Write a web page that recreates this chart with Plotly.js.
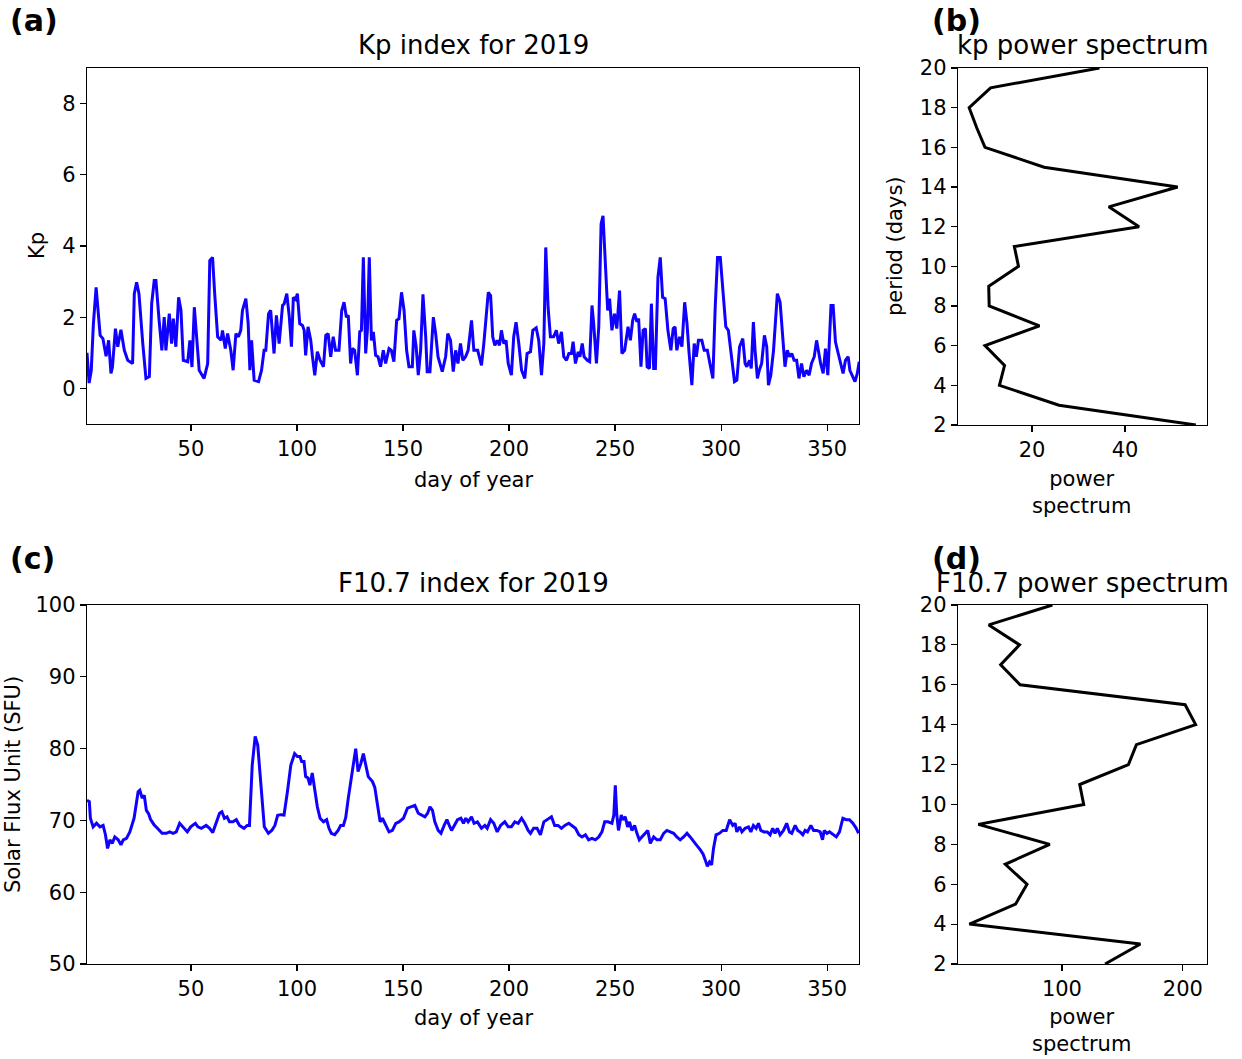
<!DOCTYPE html>
<html>
<head>
<meta charset="utf-8">
<script src="https://cdn.plot.ly/plotly-3.0.1.min.js"></script>
<style>html,body{margin:0;padding:0;background:#fff;}#chart{width:1242px;height:1059px;}</style>
</head>
<body>
<div id="chart"></div>
<script>
// ---- Panel (a): Kp index for 2019 ----
const kpDay = [1,2,3,4,5.3,6.2,7.2,8.5,10,11.2,12.3,13,14.4,15.5,17,18.6,20.2,22.5,23.3,24.4,25.5,27.3,28.8,30.4,31.5,32.7,33.5,35,36.3,37.4,38.2,39.8,40.9,41.7,42.9,44.2,45.3,46.4,48.5,49.5,50.5,51.6,52.6,53.9,56.2,57.9,58.9,60.2,61.2,62.6,64.2,64.9,66.2,67.3,68.8,69.9,71.2,72.4,73.5,74.3,75.9,77,77.8,78.6,79.8,81.9,83.3,84.5,85.3,86.6,87.6,89.2,90.3,91.6,93.2,94,95.2,96.4,97.4,98.3,99.4,100.2,101.3,102.6,103.4,104.1,105.2,106.5,107.3,108.4,109.6,110.9,112.5,113.6,114.7,115.9,117.1,118.2,119.8,121.1,122.2,123.3,124.2,125.3,126.1,127.2,128.5,129.6,130.4,131.3,132.4,133.2,134.1,135.1,136,137.1,138.2,139.4,140.7,141.8,143.4,144.5,145.7,147,148.1,149.3,150.5,151.7,152.8,154.4,155.1,156.2,157.2,158.3,159.4,160.7,161.4,162.7,164.3,165.4,166.5,167.7,168.5,170.1,171.1,172.4,173.7,174.8,175.9,177.1,178.2,179.5,180.7,182.3,183.4,185.2,187,188.1,189.2,190.2,191.3,192.3,193.3,194.4,195.5,196.4,197.5,198.6,199.6,201.1,202.2,203.3,204.6,205.9,207.4,208.5,210.1,211.2,212.8,214,215.3,216.4,217.3,218.4,219.5,221,222.3,223.4,224.7,225.8,227.1,228.2,229.4,230.2,231.3,232.6,233.4,234.5,235.4,236.9,238,239.1,239.9,241.2,242.3,243.4,244.3,245.4,246.5,247.4,248.5,249.7,250.8,252.1,253.2,254.5,256.1,257.2,258.3,259.2,260.3,261.1,262.2,263.2,264.3,265.1,266.2,267.1,268.2,269,270.2,271.3,272.4,273.6,274.9,276.3,277.4,278.3,279.1,280.4,281.5,282.8,283.9,284.9,286.2,287.3,288.3,289.3,290.9,292,293.5,294.4,296.1,297.2,298.3,299.6,300.8,302.2,303.4,304.7,306.3,307.4,308.7,310.2,311.3,312.1,313.4,314.2,315.2,316,317.1,318,319.1,320.4,321.5,322.3,323.4,324.7,325.9,326.5,327.8,328.9,330.1,331.2,332.2,333.3,334.4,335.6,336.7,337.9,339,340.3,341.5,342.6,343.9,345,346.1,346.9,348.1,349.2,350.3,351.8,352.8,353.9,355.2,356.3,357.5,358.6,359.9,360.7,361.9,363.1,364.2,365.1];
const kpValue = [1.0,0.15,0.5,1.8,2.84,2.2,1.49,1.4,0.9,1.35,0.42,0.6,1.68,1.17,1.65,1.07,0.79,0.7,2.66,2.98,2.66,1.26,0.28,0.33,2.38,3.03,3.03,1.91,1.07,2.0,1.07,2.1,1.26,1.96,1.17,2.56,2.2,0.79,0.75,1.35,0.6,2.28,1.4,0.51,0.28,0.7,3.59,3.68,2.66,1.45,1.35,1.63,1.12,1.54,1.07,0.51,1.54,1.45,1.63,2.19,2.52,1.82,0.51,1.35,0.23,0.19,0.51,1.07,1.07,2.1,2.19,0.98,2.05,1.26,2.33,2.38,2.66,2.0,1.17,2.56,2.5,2.66,1.82,1.77,1.63,0.93,1.73,1.35,0.89,0.37,1.03,0.79,0.61,1.49,1.54,0.89,1.45,1.07,1.07,2.19,2.42,2.0,2.05,0.7,1.12,1.07,0.37,1.59,1.63,3.68,0.98,1.63,3.68,1.35,1.59,0.93,0.89,0.61,1.07,0.7,1.12,1.07,0.75,1.91,1.96,2.7,2.19,1.07,0.61,0.61,1.63,1.17,0.37,1.07,2.64,1.45,0.47,0.47,2.0,1.54,0.89,0.61,0.47,0.89,1.54,1.35,0.47,1.07,0.7,1.26,0.79,0.89,1.07,1.91,1.07,1.07,0.65,1.26,2.0,2.7,2.61,1.45,1.21,1.35,1.21,1.63,1.26,1.35,0.7,0.37,1.45,1.86,1.26,0.51,0.28,0.98,1.03,1.63,1.7,1.35,0.37,1.26,3.96,2.28,1.45,1.45,1.63,1.26,1.59,0.89,0.79,0.98,0.98,1.31,0.7,1.03,0.89,1.26,0.89,0.79,0.75,2.33,1.82,0.7,1.73,4.62,4.85,3.49,2.19,2.52,1.63,2.1,1.68,2.75,0.98,1.07,1.73,1.35,1.91,2.1,1.87,1.96,0.61,1.63,1.68,0.61,0.56,2.38,0.56,0.56,3.12,3.68,2.56,2.52,1.63,1.07,1.68,1.73,1.07,1.45,1.17,2.42,1.82,0.98,0.09,1.26,0.89,1.35,1.35,1.07,1.07,0.79,0.28,2.28,3.68,3.68,2.66,1.73,1.63,0.98,0.19,0.23,1.17,1.4,0.7,0.61,0.79,0.56,1.86,1.07,0.28,0.51,0.7,1.49,1.17,0.09,0.37,1.07,2.28,2.66,2.42,1.63,0.61,1.07,0.89,0.98,0.79,0.79,0.28,0.7,0.33,0.51,0.37,0.7,0.89,1.35,0.89,0.7,0.42,1.12,0.37,2.33,2.33,1.31,0.98,0.7,0.42,0.79,0.89,0.51,0.33,0.19,0.42,0.75];

// ---- Panel (b): kp power spectrum ----
const kpPeriod = [2,3,4,5,6,7,8,9,10,11,12,13,14,15,16,17,18,19,20];
const kpPower = [55.2,25.8,13.0,14.1,9.9,21.6,10.8,10.7,17.1,16.2,43.0,36.5,51.3,22.6,9.9,8.1,6.5,11.1,34.5];

// ---- Panel (c): F10.7 index for 2019 ----
const fDay = [1,2.1,2.6,3.9,5.5,7.1,8.6,9.7,10.7,11.8,12.9,14.1,15.7,17,18.1,19.6,21.2,23.2,25.1,25.9,27,28,29,30.1,31,32.6,34.2,36.4,38.4,40,41.6,43.1,44.7,46.3,48.3,49.9,52.1,53.3,54.9,57.2,58.8,60.3,61.9,63.5,64.6,65.8,67,68.2,69.8,71.4,72.9,75,76.5,77.6,78.9,80.3,81.5,83.1,84.6,86.5,88.1,89.6,90.9,92.4,93.9,95.5,97.1,98.9,100.2,101.4,102.2,103.3,104.1,105.2,106.1,107.2,108.3,109.6,110.9,112.5,114,115.1,116.2,117.8,119.4,120.6,121.9,123,124.2,125.7,126.9,127.7,128.8,130.1,131.3,132.4,133.6,135.6,136.7,138,139.2,140.3,141.9,143.4,145,146.6,148.1,150.2,152.1,153.7,155.6,157.2,158.8,160.3,161.6,162.7,163.9,165,166.6,167.9,169.4,170.7,171.8,172.9,174.2,175.7,177.3,178.5,179.6,180.7,182.3,183.5,185.1,187,188.6,189.7,191.3,192.8,194.4,196,198,199.6,201.1,202.7,204.3,205.9,207.4,209,210.1,211.6,213.2,214.8,216.4,217.9,220,221.5,223.1,224.7,226.3,228.2,229.7,231.3,232.9,234.4,236,237.5,239.1,240.7,242.3,243.8,245.1,246.6,248.5,249.4,250.1,250.8,251.6,252.9,253.7,254.8,255.9,256.8,257.9,259.2,260.3,261.4,262.6,264.2,265.4,266.6,268.2,269.7,271.3,272.9,274.4,276,277.6,279.1,280.7,282.3,283.9,285.4,287,288.3,290.2,291.5,292.5,293.5,294.5,295.5,296.4,297.6,299.2,300.8,302.4,304,305.5,306.6,307.4,308.7,309.8,311.3,312.9,314,315.2,316.5,317.6,318.7,320.2,321.8,323.1,324.3,325.4,326.5,327.8,329.4,330.9,332.2,333.3,334.9,336.1,337.2,338.5,339.6,340.7,342.3,343.6,345.1,346.7,347.8,348.6,349.9,351.1,352.7,354.3,355.8,357.4,359,360.5,362.1,363.7,364.8];
const fValue = [72.8,72.6,70.3,69.1,69.6,69.1,69.3,68.0,66.1,67.3,66.8,67.7,67.3,66.6,67.3,67.5,68.4,70.3,74.0,74.2,73.1,73.5,71.4,70.9,70.1,69.4,68.9,68.2,68.2,68.4,68.2,68.4,69.6,69.1,68.4,69.1,69.6,69.1,68.9,69.3,68.9,68.3,69.8,71.0,71.2,70.3,70.5,69.8,69.8,70.1,69.3,68.9,69.3,69.3,77.7,81.7,80.5,74.5,69.1,68.2,68.6,69.3,70.7,70.8,70.75,74.0,77.7,79.3,78.9,78.9,78.2,78.2,76.1,75.9,74.9,76.6,74.5,71.9,70.3,69.8,70.1,68.9,68.2,68.0,68.6,69.3,69.3,70.4,73.1,75.9,78.2,80.0,76.8,77.9,79.3,77.7,76.1,75.4,74.6,72.1,69.8,70.3,69.3,68.4,68.6,69.6,69.8,70.3,71.7,71.9,72.1,71.0,70.75,70.5,71.0,71.9,71.4,69.8,68.6,68.2,69.3,70.1,69.3,68.6,69.3,70.1,70.3,69.6,70.3,69.8,70.5,69.6,69.8,68.9,69.3,68.9,70.1,69.6,68.4,69.3,69.8,69.1,69.1,69.8,69.6,70.3,69.6,68.6,68.2,68.9,68.9,68.0,69.8,70.1,70.5,69.3,69.3,68.9,69.3,69.6,69.3,68.9,68.0,67.7,68.0,67.3,67.5,67.3,67.7,68.4,69.8,69.8,69.6,70.75,74.9,70.75,68.6,70.75,70.1,70.5,69.1,69.8,68.6,69.3,68.2,67.3,67.7,68.2,68.6,66.8,67.7,67.3,67.3,68.2,68.6,68.4,68.2,67.7,67.3,67.7,68.2,67.7,67.0,66.6,65.9,65.3,64.5,63.6,64.2,63.8,66.1,68.0,68.2,68.6,68.6,70.1,69.3,69.6,68.4,69.1,68.4,68.9,69.1,68.4,69.3,68.9,69.6,68.6,68.4,68.4,68.0,68.9,68.2,68.9,68.0,68.6,69.6,68.4,68.2,69.3,68.6,68.4,68.0,68.6,68.4,69.3,68.6,68.6,68.4,67.3,68.6,68.2,68.4,68.0,67.7,68.4,70.3,70.1,70.1,69.6,68.9,68.2];

// ---- Panel (d): F10.7 power spectrum ----
const fPeriod = [2,3,4,5,6,7,8,9,10,11,12,13,14,15,16,17,18,19,20];
const fPower = [135.7,164.9,23.4,61.6,71.1,53.1,89.9,30.8,118.0,114.7,155.0,161.6,210.6,201.9,65.4,49.3,64.9,39.5,92.1];

const xTicksDay = [50,100,150,200,250,300,350];

const W = 1242, H = 1059;
const px = v => v / W;
const py = v => 1 - v / H;
const FONT = 'DejaVu Sans, sans-serif';

function axisStyle(extra) {
  return Object.assign({
    showline: true, mirror: true, linecolor: 'black', linewidth: 1.2,
    ticks: 'outside', ticklen: 6, tickwidth: 1.2, tickcolor: 'black',
    showgrid: false, zeroline: false, fixedrange: true,
    tickfont: {family: FONT, size: 21, color: 'black'}
  }, extra);
}

const traces = [
  {x: kpDay, y: kpValue, xaxis: 'x', yaxis: 'y', type: 'scatter', mode: 'lines',
   line: {color: '#1000ff', width: 3}, hoverinfo: 'skip'},
  {x: kpPower, y: kpPeriod, xaxis: 'x2', yaxis: 'y2', type: 'scatter', mode: 'lines',
   line: {color: 'black', width: 3}, hoverinfo: 'skip'},
  {x: fDay, y: fValue, xaxis: 'x3', yaxis: 'y3', type: 'scatter', mode: 'lines',
   line: {color: '#1000ff', width: 3}, hoverinfo: 'skip'},
  {x: fPower, y: fPeriod, xaxis: 'x4', yaxis: 'y4', type: 'scatter', mode: 'lines',
   line: {color: 'black', width: 3}, hoverinfo: 'skip'}
];

function ann(text, x, y, opts) {
  return Object.assign({
    text: text, xref: 'paper', yref: 'paper', x: px(x), y: py(y),
    xanchor: 'center', yanchor: 'middle', showarrow: false,
    font: {family: FONT, size: 21, color: 'black'}
  }, opts || {});
}

const layout = {
  width: W, height: H,
  margin: {l: 0, r: 0, t: 0, b: 0},
  paper_bgcolor: 'white', plot_bgcolor: 'white',
  showlegend: false,
  xaxis: axisStyle({domain: [px(87), px(859)], range: [1, 365], tickvals: xTicksDay, anchor: 'y'}),
  yaxis: axisStyle({domain: [py(424), py(68)], range: [-1, 9], dtick: 2, tick0: 0, anchor: 'x'}),
  xaxis2: axisStyle({domain: [px(958), px(1207)], range: [4.1, 57.6], tickvals: [20, 40], anchor: 'y2'}),
  yaxis2: axisStyle({domain: [py(425), py(68)], range: [2, 20], dtick: 2, tick0: 2, anchor: 'x2'}),
  xaxis3: axisStyle({domain: [px(87), px(859)], range: [1, 365], tickvals: xTicksDay, anchor: 'y3'}),
  yaxis3: axisStyle({domain: [py(964), py(605)], range: [50, 100], dtick: 10, tick0: 50, anchor: 'x3'}),
  xaxis4: axisStyle({domain: [px(958), px(1207)], range: [14, 220], tickvals: [100, 200], anchor: 'y4'}),
  yaxis4: axisStyle({domain: [py(964), py(605)], range: [2, 20], dtick: 2, tick0: 2, anchor: 'x4'}),
  annotations: [
    ann('<b>(a)</b>', 8, 20, {xanchor: 'left', font: {family: FONT, size: 30, color: 'black'}}),
    ann('<b>(b)</b>', 930, 20, {xanchor: 'left', font: {family: FONT, size: 30, color: 'black'}}),
    ann('<b>(c)</b>', 8, 558, {xanchor: 'left', font: {family: FONT, size: 30, color: 'black'}}),
    ann('<b>(d)</b>', 930, 558, {xanchor: 'left', font: {family: FONT, size: 30, color: 'black'}}),
    ann('Kp index for 2019', 473, 45, {font: {family: FONT, size: 26, color: 'black'}}),
    ann('kp power spectrum', 1082, 45, {font: {family: FONT, size: 26, color: 'black'}}),
    ann('F10.7 index for 2019', 473, 583, {font: {family: FONT, size: 26, color: 'black'}}),
    ann('F10.7 power spectrum', 1082, 583, {font: {family: FONT, size: 26, color: 'black'}}),
    ann('day of year', 473, 480),
    ann('day of year', 473, 1018),
    ann('Kp', 37, 246, {textangle: -90}),
    ann('period (days)', 895, 246, {textangle: -90}),
    ann('Solar Flux Unit (SFU)', 13, 785, {textangle: -90}),
    ann('power<br>spectrum', 1081, 492),
    ann('power<br>spectrum', 1081, 1030)
  ]
};

Plotly.newPlot('chart', traces, layout, {staticPlot: true, displayModeBar: false});
</script>
</body>
</html>
